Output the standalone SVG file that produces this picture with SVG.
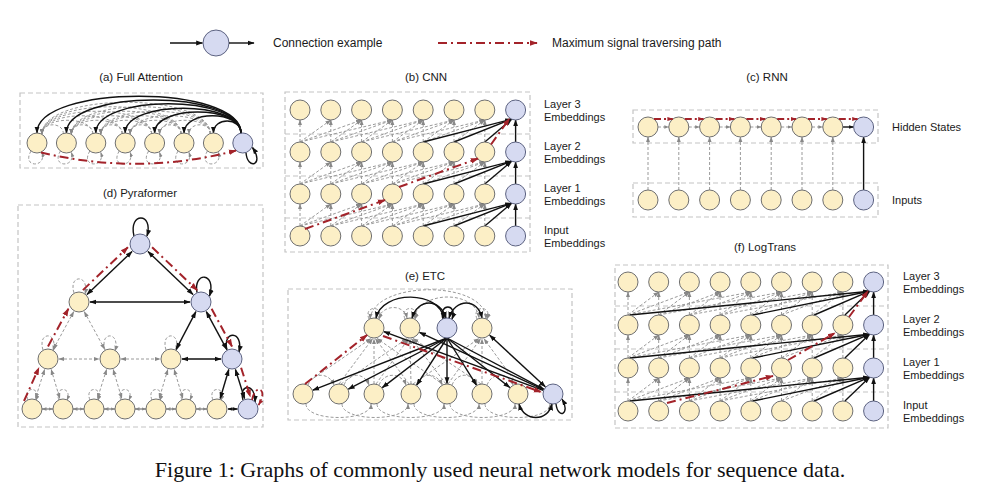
<svg xmlns="http://www.w3.org/2000/svg" width="1000" height="503" viewBox="0 0 1000 503">
<defs>
<marker id="mk" viewBox="0 0 10 10" refX="9" refY="5" markerWidth="7" markerHeight="7" markerUnits="userSpaceOnUse" orient="auto-start-reverse"><path d="M0,1.5L10,5L0,8.5z" fill="#111"/></marker>
<marker id="mks" viewBox="0 0 10 10" refX="9" refY="5" markerWidth="5" markerHeight="5" markerUnits="userSpaceOnUse" orient="auto-start-reverse"><path d="M0,1.5L10,5L0,8.5z" fill="#111"/></marker>
<marker id="mg" viewBox="0 0 10 10" refX="9" refY="5" markerWidth="6" markerHeight="6" markerUnits="userSpaceOnUse" orient="auto-start-reverse"><path d="M0,1.5L10,5L0,8.5z" fill="#888"/></marker>
<marker id="mgs" viewBox="0 0 10 10" refX="9" refY="5" markerWidth="5" markerHeight="5" markerUnits="userSpaceOnUse" orient="auto-start-reverse"><path d="M0,1.5L10,5L0,8.5z" fill="#888"/></marker>
<marker id="mr" viewBox="0 0 10 10" refX="9" refY="5" markerWidth="8" markerHeight="8" markerUnits="userSpaceOnUse" orient="auto"><path d="M0,1.5L10,5L0,8.5z" fill="#a3232a"/></marker>
<marker id="mrs" viewBox="0 0 10 10" refX="9" refY="5" markerWidth="6" markerHeight="6" markerUnits="userSpaceOnUse" orient="auto"><path d="M0,1.5L10,5L0,8.5z" fill="#a3232a"/></marker>
<g id="cnnE">
<line class="g" x1="300" y1="226" x2="300" y2="204"/>
<line class="g" x1="300" y1="226" x2="330.8" y2="204"/>
<line class="g" x1="330.8" y1="226" x2="330.8" y2="204"/>
<line class="g" x1="300" y1="226" x2="361.6" y2="204"/>
<line class="g" x1="330.8" y1="226" x2="361.6" y2="204"/>
<line class="g" x1="361.6" y1="226" x2="361.6" y2="204"/>
<line class="g" x1="300" y1="226" x2="392.4" y2="204"/>
<line class="g" x1="330.8" y1="226" x2="392.4" y2="204"/>
<line class="g" x1="361.6" y1="226" x2="392.4" y2="204"/>
<line class="g" x1="392.4" y1="226" x2="392.4" y2="204"/>
<line class="g" x1="330.8" y1="226" x2="423.2" y2="204"/>
<line class="g" x1="361.6" y1="226" x2="423.2" y2="204"/>
<line class="g" x1="392.4" y1="226" x2="423.2" y2="204"/>
<line class="g" x1="423.2" y1="226" x2="423.2" y2="204"/>
<line class="g" x1="361.6" y1="226" x2="454" y2="204"/>
<line class="g" x1="392.4" y1="226" x2="454" y2="204"/>
<line class="g" x1="423.2" y1="226" x2="454" y2="204"/>
<line class="g" x1="454" y1="226" x2="454" y2="204"/>
<line class="g" x1="392.4" y1="226" x2="484.8" y2="204"/>
<line class="g" x1="423.2" y1="226" x2="484.8" y2="204"/>
<line class="g" x1="454" y1="226" x2="484.8" y2="204"/>
<line class="g" x1="484.8" y1="226" x2="484.8" y2="204"/>
<line class="k" x1="423.2" y1="226" x2="511.6" y2="203.2"/>
<line class="k" x1="454" y1="226" x2="511.6" y2="203.2"/>
<line class="k" x1="484.8" y1="226" x2="511.6" y2="203.2"/>
<line class="k" x1="515.6" y1="226" x2="515.6" y2="204"/>
</g>
<g id="ltE">
<line class="g" x1="628" y1="401" x2="628" y2="378"/>
<line class="g" x1="658.7" y1="401" x2="658.7" y2="378"/>
<line class="g" x1="689.4" y1="401" x2="689.4" y2="378"/>
<line class="g" x1="720.1" y1="401" x2="720.1" y2="378"/>
<line class="g" x1="750.8" y1="401" x2="750.8" y2="378"/>
<line class="g" x1="781.5" y1="401" x2="781.5" y2="378"/>
<line class="g" x1="812.2" y1="401" x2="812.2" y2="378"/>
<line class="g" x1="842.9" y1="401" x2="842.9" y2="378"/>
<line class="g" x1="628" y1="401" x2="658.7" y2="378"/>
<line class="g" x1="658.7" y1="401" x2="689.4" y2="378"/>
<line class="g" x1="628" y1="401" x2="689.4" y2="378"/>
<line class="g" x1="689.4" y1="401" x2="720.1" y2="378"/>
<line class="g" x1="658.7" y1="401" x2="720.1" y2="378"/>
<line class="g" x1="720.1" y1="401" x2="750.8" y2="378"/>
<line class="g" x1="689.4" y1="401" x2="750.8" y2="378"/>
<line class="g" x1="628" y1="401" x2="750.8" y2="378"/>
<line class="g" x1="750.8" y1="401" x2="781.5" y2="378"/>
<line class="g" x1="720.1" y1="401" x2="781.5" y2="378"/>
<line class="g" x1="658.7" y1="401" x2="781.5" y2="378"/>
<line class="g" x1="781.5" y1="401" x2="812.2" y2="378"/>
<line class="g" x1="750.8" y1="401" x2="812.2" y2="378"/>
<line class="g" x1="689.4" y1="401" x2="812.2" y2="378"/>
<line class="g" x1="812.2" y1="401" x2="842.9" y2="378"/>
<line class="g" x1="781.5" y1="401" x2="842.9" y2="378"/>
<line class="g" x1="720.1" y1="401" x2="842.9" y2="378"/>
<line class="k" x1="630" y1="401" x2="869.6" y2="377.2"/>
<line class="k" x1="752.8" y1="401" x2="869.6" y2="377.2"/>
<line class="k" x1="814.2" y1="401" x2="869.6" y2="377.2"/>
<line class="k" x1="844.9" y1="401" x2="869.6" y2="377.2"/>
<line class="k" x1="873.6" y1="401" x2="873.6" y2="378"/>
</g>
</defs>
<style>
.n{fill:#fcefc6;stroke:#707070;stroke-width:1}
.nb{fill:#d6daf1;stroke:#5d6382;stroke-width:1}
.box{fill:none;stroke:#c4c4c4;stroke-width:1.2;stroke-dasharray:5 3}
.k{fill:none;stroke:#111;stroke-width:1.4;marker-end:url(#mk)}
.k2{marker-start:url(#mk)}
.ks{fill:none;stroke:#111;stroke-width:1.4;marker-end:url(#mks);marker-start:url(#mks)}
.g{fill:none;stroke:#9a9a9a;stroke-width:1;stroke-dasharray:3 2;marker-end:url(#mg)}
.g2{marker-start:url(#mg)}
.gs{fill:none;stroke:#8a8a8a;stroke-width:1.4;marker-end:url(#mgs);marker-start:url(#mgs)}
.gh{fill:none;stroke:#9a9a9a;stroke-width:1;stroke-dasharray:3 2;marker-end:url(#mgs)}
.r{fill:none;stroke:#a3232a;stroke-width:2;stroke-dasharray:9 4 2 4;marker-end:url(#mr)}
.rs{fill:none;stroke:#a3232a;stroke-width:1.8;stroke-dasharray:7 3 2 3;marker-end:url(#mrs)}
text{font-family:"Liberation Sans",Arial,Helvetica,sans-serif;fill:#1a1a1a}
.lg{font-size:12px}
.t{font-size:11.5px;text-anchor:middle}
.l{font-size:11px}
.cap{font-family:"Liberation Serif","Times New Roman",serif;font-size:22px;text-anchor:middle;fill:#111}
</style>
<rect width="1000" height="503" fill="#fff"/>

<g id="legend">
<line class="k" x1="170" y1="43" x2="202.5" y2="43"/>
<circle class="nb" cx="216" cy="43" r="13"/>
<line class="k" x1="229" y1="43" x2="254" y2="43"/>
<text class="lg" x="273" y="47">Connection example</text>
<line class="r" x1="438" y1="43" x2="537" y2="43"/>
<text class="lg" x="552" y="47">Maximum signal traversing path</text>
</g>

<g id="titles">
<text class="t" x="141" y="81">(a) Full Attention</text>
<text class="t" x="426" y="81">(b) CNN</text>
<text class="t" x="767" y="81">(c) RNN</text>
<text class="t" x="140" y="197">(d) Pyraformer</text>
<text class="t" x="425" y="280">(e) ETC</text>
<text class="t" x="765" y="251">(f) LogTrans</text>
</g>

<g id="labels">
<text class="l" x="544" y="107.5">Layer 3</text><text class="l" x="544" y="121">Embeddings</text>
<text class="l" x="544" y="149.5">Layer 2</text><text class="l" x="544" y="163">Embeddings</text>
<text class="l" x="544" y="191.5">Layer 1</text><text class="l" x="544" y="205">Embeddings</text>
<text class="l" x="544" y="233.5">Input</text><text class="l" x="544" y="247">Embeddings</text>
<text class="l" x="892" y="131">Hidden States</text>
<text class="l" x="892" y="204">Inputs</text>
<text class="l" x="903" y="279.5">Layer 3</text><text class="l" x="903" y="293">Embeddings</text>
<text class="l" x="903" y="322.5">Layer 2</text><text class="l" x="903" y="336">Embeddings</text>
<text class="l" x="903" y="365.5">Layer 1</text><text class="l" x="903" y="379">Embeddings</text>
<text class="l" x="903" y="408.5">Input</text><text class="l" x="903" y="422">Embeddings</text>
</g>

<g id="frames">
<rect class="box" x="20" y="93" width="243" height="75"/>
<rect class="box" x="285" y="92" width="245" height="160"/>
<line class="box" x1="285" y1="134" x2="530" y2="134"/>
<line class="box" x1="285" y1="176" x2="530" y2="176"/>
<line class="box" x1="285" y1="218" x2="530" y2="218"/>
<rect class="box" x="633" y="110" width="245" height="33"/>
<rect class="box" x="633" y="183" width="245" height="34"/>
<rect class="box" x="18" y="205" width="245" height="222"/>
<rect class="box" x="288" y="289" width="284" height="131"/>
<rect class="box" x="615" y="265" width="273" height="163"/>
<line class="box" x1="615" y1="306" x2="888" y2="306"/>
<line class="box" x1="615" y1="349" x2="888" y2="349"/>
<line class="box" x1="615" y1="392" x2="888" y2="392"/>
</g>

<g id="connectors">
<!-- (a) full attention -->
<path class="g" d="M63.4,134 C63.4,121.7 42,121.7 42,134"/>
<path class="g" d="M92.8,134 C92.8,121.7 71.4,121.7 71.4,134"/>
<path class="g" d="M92.8,134 C92.8,115.7 42,115.7 42,134"/>
<path class="g" d="M122.2,134 C122.2,121.7 100.8,121.7 100.8,134"/>
<path class="g" d="M122.2,134 C122.2,115.7 71.4,115.7 71.4,134"/>
<path class="g" d="M122.2,134 C122.2,109.7 42,109.7 42,134"/>
<path class="g" d="M151.6,134 C151.6,121.7 130.2,121.7 130.2,134"/>
<path class="g" d="M151.6,134 C151.6,115.7 100.8,115.7 100.8,134"/>
<path class="g" d="M151.6,134 C151.6,109.7 71.4,109.7 71.4,134"/>
<path class="g" d="M151.6,134 C151.6,103.7 42,103.7 42,134"/>
<path class="g" d="M181,134 C181,121.7 159.6,121.7 159.6,134"/>
<path class="g" d="M181,134 C181,115.7 130.2,115.7 130.2,134"/>
<path class="g" d="M181,134 C181,109.7 100.8,109.7 100.8,134"/>
<path class="g" d="M181,134 C181,103.7 71.4,103.7 71.4,134"/>
<path class="g" d="M181,134 C181,97.7 42,97.7 42,134"/>
<path class="g" d="M210.4,134 C210.4,121.7 189,121.7 189,134"/>
<path class="g" d="M210.4,134 C210.4,115.7 159.6,115.7 159.6,134"/>
<path class="g" d="M210.4,134 C210.4,109.7 130.2,109.7 130.2,134"/>
<path class="g" d="M210.4,134 C210.4,103.7 100.8,103.7 100.8,134"/>
<path class="g" d="M210.4,134 C210.4,97.7 71.4,97.7 71.4,134"/>
<path class="g" d="M210.4,134 C210.4,91.7 42,91.7 42,134"/>
<path class="gh" d="M31,151 C21,168 47,168 42,152.5"/>
<path class="gh" d="M60.4,151 C50.4,168 76.4,168 71.4,152.5"/>
<path class="gh" d="M89.8,151 C79.8,168 105.8,168 100.8,152.5"/>
<path class="gh" d="M119.2,151 C109.2,168 135.2,168 130.2,152.5"/>
<path class="gh" d="M148.6,151 C138.6,168 164.6,168 159.6,152.5"/>
<path class="gh" d="M178,151 C168,168 194,168 189,152.5"/>
<path class="gh" d="M207.4,151 C197.4,168 223.4,168 218.4,152.5"/>
<path class="k" d="M241,133.2 C241,84 37,84 37,133"/>
<path class="k" d="M241,133.2 C241,89 66.4,89 66.4,133"/>
<path class="k" d="M241,133.2 C241,94 95.8,94 95.8,133"/>
<path class="k" d="M241,133.2 C241,100 125.2,100 125.2,133"/>
<path class="k" d="M241,133.2 C241,105 154.6,105 154.6,133"/>
<path class="k" d="M241,133.2 C241,110 184,110 184,133"/>
<path class="k" d="M241,133.2 C241,117 213.4,117 213.4,133"/>
<path class="k" d="M246,152.5 C247,170 265,166 252.5,147.5"/>

<!-- (b) CNN -->
<use href="#cnnE"/>
<use href="#cnnE" transform="translate(0,-42)"/>
<use href="#cnnE" transform="translate(0,-84)"/>

<!-- (c) RNN -->
<line class="gh" x1="658" y1="127" x2="668.8" y2="127"/>
<line class="gh" x1="688.8" y1="127" x2="699.6" y2="127"/>
<line class="gh" x1="719.6" y1="127" x2="730.4" y2="127"/>
<line class="gh" x1="750.4" y1="127" x2="761.2" y2="127"/>
<line class="gh" x1="781.2" y1="127" x2="792" y2="127"/>
<line class="gh" x1="812" y1="127" x2="822.8" y2="127"/>
<line class="ks" x1="842.8" y1="127" x2="853.6" y2="127" style="marker-start:none"/>
<line class="g" x1="648" y1="190" x2="648" y2="137"/>
<line class="g" x1="678.8" y1="190" x2="678.8" y2="137"/>
<line class="g" x1="709.6" y1="190" x2="709.6" y2="137"/>
<line class="g" x1="740.4" y1="190" x2="740.4" y2="137"/>
<line class="g" x1="771.2" y1="190" x2="771.2" y2="137"/>
<line class="g" x1="802" y1="190" x2="802" y2="137"/>
<line class="g" x1="832.8" y1="190" x2="832.8" y2="137"/>
<line class="k" x1="863.6" y1="190" x2="863.6" y2="137"/>

<!-- (d) Pyraformer -->
<line class="g g2" x1="73.7" y1="311.7" x2="53.3" y2="349.3"/>
<line class="g g2" x1="84.3" y1="311.7" x2="104.7" y2="349.3"/>
<line class="g g2" x1="59" y1="359" x2="99" y2="359"/>
<line class="g g2" x1="121" y1="359" x2="160" y2="359"/>
<line class="g g2" x1="44.6" y1="369.5" x2="35.4" y2="398.5"/>
<line class="g g2" x1="51.2" y1="369.5" x2="59.8" y2="398.5"/>
<line class="g g2" x1="106.6" y1="369.5" x2="97.4" y2="398.5"/>
<line class="g g2" x1="113.2" y1="369.5" x2="121.8" y2="398.5"/>
<line class="g g2" x1="167.8" y1="369.5" x2="159.2" y2="398.5"/>
<line class="g g2" x1="174.2" y1="369.5" x2="182.8" y2="398.5"/>
<line class="gs" x1="42" y1="409" x2="53" y2="409"/>
<line class="gs" x1="73" y1="409" x2="84" y2="409"/>
<line class="gs" x1="104" y1="409" x2="115" y2="409"/>
<line class="gs" x1="135" y1="409" x2="146" y2="409"/>
<line class="gs" x1="166" y1="409" x2="176" y2="409"/>
<line class="gs" x1="196" y1="409" x2="207" y2="409"/>
<path class="g" d="M74,293 C68,274 90,274 85,294"/>
<path class="g" d="M43,350 C37,331 59,331 53,351"/>
<path class="g" d="M105,350 C99,331 121,331 115,351"/>
<path class="g" d="M166,350 C160,331 182,331 176,351"/>
<path class="gh" d="M28,400 C22,386 42,386 36,400"/>
<path class="gh" d="M59,400 C53,386 73,386 67,400"/>
<path class="gh" d="M90,400 C84,386 104,386 98,400"/>
<path class="gh" d="M121,400 C115,386 135,386 129,400"/>
<path class="gh" d="M152,400 C146,386 166,386 160,400"/>
<path class="gh" d="M182,400 C176,386 196,386 190,400"/>
<path class="gh" d="M213,400 C207,386 227,386 221,400"/>
<line class="k k2" x1="132" y1="251.6" x2="87" y2="294.4"/>
<line class="k k2" x1="148" y1="251.6" x2="193" y2="294.4"/>
<line class="k k2" x1="90" y1="302" x2="190" y2="302"/>
<line class="k k2" x1="195.9" y1="311.7" x2="176.1" y2="349.3"/>
<line class="k k2" x1="206.3" y1="311.7" x2="226.7" y2="349.3"/>
<line class="k k2" x1="182" y1="359" x2="221" y2="359"/>
<line class="k k2" x1="228.8" y1="369.5" x2="220.2" y2="398.5"/>
<line class="k k2" x1="235.4" y1="369.5" x2="244.6" y2="398.5"/>
<line class="ks" x1="228" y1="409" x2="237.5" y2="409"/>
<path class="k" d="M134,236 C128,212 154,212 147,236"/>
<path class="k" d="M197,292.5 C193,271 217,272 209.5,296"/>
<path class="k" d="M227,350 C222,330 244,330 239,352"/>
<path class="k" d="M243,400 C238,384 256,382 255,402"/>

<!-- (e) ETC -->
<path class="g g2" d="M370,319 C374,280 486,280 486,319"/>
<path class="g" d="M378,318 C384,304 404,304 407,318"/>
<path class="g g2" d="M414,318 C420,290 476,290 479,318"/>
<path class="g" d="M369,319 C363,305 385,305 379,319"/>
<path class="g" d="M405,319 C399,305 421,305 415,319"/>
<path class="g" d="M477,319 C471,305 493,305 487,319"/>
<line class="g" x1="305" y1="384" x2="371" y2="338.5"/>
<line class="g" x1="339" y1="384" x2="372.5" y2="338.8"/>
<line class="g" x1="374" y1="384" x2="374" y2="339"/>
<line class="g" x1="409" y1="384" x2="375.5" y2="338.8"/>
<line class="g" x1="444" y1="385" x2="377" y2="338.5"/>
<line class="g" x1="341" y1="384" x2="407" y2="338.5"/>
<line class="g" x1="376" y1="384" x2="408.5" y2="338.8"/>
<line class="g" x1="411" y1="384" x2="410" y2="339"/>
<line class="g" x1="446" y1="384" x2="411.5" y2="338.8"/>
<line class="g" x1="481" y1="384" x2="413" y2="338.5"/>
<line class="g" x1="413" y1="384" x2="479" y2="338.5"/>
<line class="g" x1="448" y1="384" x2="480.5" y2="338.8"/>
<line class="g" x1="482" y1="384" x2="482" y2="339"/>
<line class="g" x1="517" y1="384" x2="484" y2="338.8"/>
<path class="g" d="M308,385 C313,372 329,372 334,385"/>
<path class="g" d="M344,385 C349,372 364,372 369,385"/>
<path class="g" d="M379,385 C384,372 401,372 406,385"/>
<path class="g" d="M416,385 C421,372 437,372 442,385"/>
<path class="g" d="M452,385 C457,372 472,372 477,385"/>
<path class="g" d="M487,385 C492,372 508,372 513,385"/>
<path class="g" d="M306,404 C306,422 371,422 371,404"/>
<path class="g" d="M342,404 C342,422 408,422 408,404"/>
<path class="g" d="M377,404 C377,422 444,422 444,404"/>
<path class="g" d="M414,404 C414,422 479,422 479,404"/>
<path class="g" d="M450,404 C450,422 515,422 515,404"/>
<path class="g" d="M485,404 C485,422 550,422 550,404"/>
<path class="k k2" d="M376,318 C382,290 440,290 444,319"/>
<path class="k k2" d="M412,318 C418,298 440,298 446,318"/>
<path class="k k2" d="M449,318 C455,298 478,298 482,318"/>
<path class="k" d="M443,319 C438,303 458,303 452,319"/>
<line class="k" x1="447" y1="338" x2="312.8" y2="390.2"/>
<line class="k" x1="447" y1="338" x2="348.3" y2="389.2"/>
<line class="k" x1="447" y1="338" x2="382.3" y2="387.6"/>
<line class="k" x1="447" y1="338" x2="416.7" y2="385.2"/>
<line class="k" x1="447" y1="338" x2="447" y2="383.5"/>
<line class="k" x1="447" y1="338" x2="476.4" y2="385.1"/>
<line class="k" x1="447" y1="338" x2="509.8" y2="387.5"/>
<line class="k" x1="447" y1="338" x2="543.7" y2="389.1"/>
<line class="k" x1="543.2" y1="390.4" x2="383.8" y2="331.6"/>
<line class="k" x1="543.5" y1="389.6" x2="419.5" y2="332.4"/>
<line class="k k2" x1="545.3" y1="386.8" x2="489.7" y2="335.2"/>
<path class="k k2" d="M519,404 C524,422 548,422 552,404"/>
<path class="k" d="M556,404 C558,420 571,414 562,399"/>

<!-- (f) LogTrans -->
<use href="#ltE"/>
<use href="#ltE" transform="translate(0,-43)"/>
<use href="#ltE" transform="translate(0,-86)"/>
</g>

<g id="nodes-a">
<g id="a0"><circle class="n" cx="37" cy="143" r="10"/></g>
<g id="a1"><circle class="n" cx="66.4" cy="143" r="10"/></g>
<g id="a2"><circle class="n" cx="95.8" cy="143" r="10"/></g>
<g id="a3"><circle class="n" cx="125.2" cy="143" r="10"/></g>
<g id="a4"><circle class="n" cx="154.6" cy="143" r="10"/></g>
<g id="a5"><circle class="n" cx="184" cy="143" r="10"/></g>
<g id="a6"><circle class="n" cx="213.4" cy="143" r="10"/></g>
<g id="a7"><circle class="nb" cx="242.8" cy="143" r="10"/></g>
</g>

<g id="nodes-b">
<g id="b30"><circle class="n" cx="300" cy="110" r="10"/></g>
<g id="b31"><circle class="n" cx="330.8" cy="110" r="10"/></g>
<g id="b32"><circle class="n" cx="361.6" cy="110" r="10"/></g>
<g id="b33"><circle class="n" cx="392.4" cy="110" r="10"/></g>
<g id="b34"><circle class="n" cx="423.2" cy="110" r="10"/></g>
<g id="b35"><circle class="n" cx="454" cy="110" r="10"/></g>
<g id="b36"><circle class="n" cx="484.8" cy="110" r="10"/></g>
<g id="b37"><circle class="nb" cx="515.6" cy="110" r="10"/></g>
<g id="b20"><circle class="n" cx="300" cy="152" r="10"/></g>
<g id="b21"><circle class="n" cx="330.8" cy="152" r="10"/></g>
<g id="b22"><circle class="n" cx="361.6" cy="152" r="10"/></g>
<g id="b23"><circle class="n" cx="392.4" cy="152" r="10"/></g>
<g id="b24"><circle class="n" cx="423.2" cy="152" r="10"/></g>
<g id="b25"><circle class="n" cx="454" cy="152" r="10"/></g>
<g id="b26"><circle class="n" cx="484.8" cy="152" r="10"/></g>
<g id="b27"><circle class="nb" cx="515.6" cy="152" r="10"/></g>
<g id="b10"><circle class="n" cx="300" cy="194" r="10"/></g>
<g id="b11"><circle class="n" cx="330.8" cy="194" r="10"/></g>
<g id="b12"><circle class="n" cx="361.6" cy="194" r="10"/></g>
<g id="b13"><circle class="n" cx="392.4" cy="194" r="10"/></g>
<g id="b14"><circle class="n" cx="423.2" cy="194" r="10"/></g>
<g id="b15"><circle class="n" cx="454" cy="194" r="10"/></g>
<g id="b16"><circle class="n" cx="484.8" cy="194" r="10"/></g>
<g id="b17"><circle class="nb" cx="515.6" cy="194" r="10"/></g>
<g id="b00"><circle class="n" cx="300" cy="236" r="10"/></g>
<g id="b01"><circle class="n" cx="330.8" cy="236" r="10"/></g>
<g id="b02"><circle class="n" cx="361.6" cy="236" r="10"/></g>
<g id="b03"><circle class="n" cx="392.4" cy="236" r="10"/></g>
<g id="b04"><circle class="n" cx="423.2" cy="236" r="10"/></g>
<g id="b05"><circle class="n" cx="454" cy="236" r="10"/></g>
<g id="b06"><circle class="n" cx="484.8" cy="236" r="10"/></g>
<g id="b07"><circle class="nb" cx="515.6" cy="236" r="10"/></g>
</g>

<g id="nodes-c">
<g id="ch0"><circle class="n" cx="648" cy="127" r="10"/></g>
<g id="ch1"><circle class="n" cx="678.8" cy="127" r="10"/></g>
<g id="ch2"><circle class="n" cx="709.6" cy="127" r="10"/></g>
<g id="ch3"><circle class="n" cx="740.4" cy="127" r="10"/></g>
<g id="ch4"><circle class="n" cx="771.2" cy="127" r="10"/></g>
<g id="ch5"><circle class="n" cx="802" cy="127" r="10"/></g>
<g id="ch6"><circle class="n" cx="832.8" cy="127" r="10"/></g>
<g id="ch7"><circle class="nb" cx="863.6" cy="127" r="10"/></g>
<g id="ci0"><circle class="n" cx="648" cy="200" r="10"/></g>
<g id="ci1"><circle class="n" cx="678.8" cy="200" r="10"/></g>
<g id="ci2"><circle class="n" cx="709.6" cy="200" r="10"/></g>
<g id="ci3"><circle class="n" cx="740.4" cy="200" r="10"/></g>
<g id="ci4"><circle class="n" cx="771.2" cy="200" r="10"/></g>
<g id="ci5"><circle class="n" cx="802" cy="200" r="10"/></g>
<g id="ci6"><circle class="n" cx="832.8" cy="200" r="10"/></g>
<g id="ci7"><circle class="nb" cx="863.6" cy="200" r="10"/></g>
</g>

<g id="nodes-d">
<g id="dT"><circle class="nb" cx="140" cy="244" r="10"/></g>
<g id="dA"><circle class="n" cx="79" cy="302" r="10"/></g>
<g id="dB"><circle class="nb" cx="201" cy="302" r="10"/></g>
<g id="d1a"><circle class="n" cx="48" cy="359" r="10"/></g>
<g id="d1b"><circle class="n" cx="110" cy="359" r="10"/></g>
<g id="d1c"><circle class="n" cx="171" cy="359" r="10"/></g>
<g id="d1d"><circle class="nb" cx="232" cy="359" r="10"/></g>
<g id="d00"><circle class="n" cx="32" cy="409" r="10"/></g>
<g id="d01"><circle class="n" cx="63" cy="409" r="10"/></g>
<g id="d02"><circle class="n" cx="94" cy="409" r="10"/></g>
<g id="d03"><circle class="n" cx="125" cy="409" r="10"/></g>
<g id="d04"><circle class="n" cx="156" cy="409" r="10"/></g>
<g id="d05"><circle class="n" cx="186" cy="409" r="10"/></g>
<g id="d06"><circle class="n" cx="217" cy="409" r="10"/></g>
<g id="d07"><circle class="nb" cx="248" cy="409" r="10"/></g>
</g>

<g id="nodes-e">
<g id="et0"><circle class="n" cx="374" cy="328" r="10"/></g>
<g id="et1"><circle class="n" cx="410" cy="328" r="10"/></g>
<g id="et2"><circle class="nb" cx="447" cy="328" r="10"/></g>
<g id="et3"><circle class="n" cx="482" cy="328" r="10"/></g>
<g id="eb0"><circle class="n" cx="303" cy="394" r="10"/></g>
<g id="eb1"><circle class="n" cx="339" cy="394" r="10"/></g>
<g id="eb2"><circle class="n" cx="374" cy="394" r="10"/></g>
<g id="eb3"><circle class="n" cx="411" cy="394" r="10"/></g>
<g id="eb4"><circle class="n" cx="447" cy="394" r="10"/></g>
<g id="eb5"><circle class="n" cx="482" cy="394" r="10"/></g>
<g id="eb6"><circle class="n" cx="518" cy="394" r="10"/></g>
<g id="eb7"><circle class="nb" cx="553" cy="394" r="10"/></g>
</g>

<g id="nodes-f">
<g id="f30"><circle class="n" cx="628" cy="282" r="10"/></g>
<g id="f31"><circle class="n" cx="658.7" cy="282" r="10"/></g>
<g id="f32"><circle class="n" cx="689.4" cy="282" r="10"/></g>
<g id="f33"><circle class="n" cx="720.1" cy="282" r="10"/></g>
<g id="f34"><circle class="n" cx="750.8" cy="282" r="10"/></g>
<g id="f35"><circle class="n" cx="781.5" cy="282" r="10"/></g>
<g id="f36"><circle class="n" cx="812.2" cy="282" r="10"/></g>
<g id="f37"><circle class="n" cx="842.9" cy="282" r="10"/></g>
<g id="f38"><circle class="nb" cx="873.6" cy="282" r="10"/></g>
<g id="f20"><circle class="n" cx="628" cy="325" r="10"/></g>
<g id="f21"><circle class="n" cx="658.7" cy="325" r="10"/></g>
<g id="f22"><circle class="n" cx="689.4" cy="325" r="10"/></g>
<g id="f23"><circle class="n" cx="720.1" cy="325" r="10"/></g>
<g id="f24"><circle class="n" cx="750.8" cy="325" r="10"/></g>
<g id="f25"><circle class="n" cx="781.5" cy="325" r="10"/></g>
<g id="f26"><circle class="n" cx="812.2" cy="325" r="10"/></g>
<g id="f27"><circle class="n" cx="842.9" cy="325" r="10"/></g>
<g id="f28"><circle class="nb" cx="873.6" cy="325" r="10"/></g>
<g id="f10"><circle class="n" cx="628" cy="368" r="10"/></g>
<g id="f11"><circle class="n" cx="658.7" cy="368" r="10"/></g>
<g id="f12"><circle class="n" cx="689.4" cy="368" r="10"/></g>
<g id="f13"><circle class="n" cx="720.1" cy="368" r="10"/></g>
<g id="f14"><circle class="n" cx="750.8" cy="368" r="10"/></g>
<g id="f15"><circle class="n" cx="781.5" cy="368" r="10"/></g>
<g id="f16"><circle class="n" cx="812.2" cy="368" r="10"/></g>
<g id="f17"><circle class="n" cx="842.9" cy="368" r="10"/></g>
<g id="f18"><circle class="nb" cx="873.6" cy="368" r="10"/></g>
<g id="f00"><circle class="n" cx="628" cy="411" r="10"/></g>
<g id="f01"><circle class="n" cx="658.7" cy="411" r="10"/></g>
<g id="f02"><circle class="n" cx="689.4" cy="411" r="10"/></g>
<g id="f03"><circle class="n" cx="720.1" cy="411" r="10"/></g>
<g id="f04"><circle class="n" cx="750.8" cy="411" r="10"/></g>
<g id="f05"><circle class="n" cx="781.5" cy="411" r="10"/></g>
<g id="f06"><circle class="n" cx="812.2" cy="411" r="10"/></g>
<g id="f07"><circle class="n" cx="842.9" cy="411" r="10"/></g>
<g id="f08"><circle class="nb" cx="873.6" cy="411" r="10"/></g>
</g>

<g id="signal-paths">
<path class="r" d="M41,152.5 Q140,176 236,150.5"/>
<line class="r" x1="305" y1="229" x2="385" y2="200"/>
<line class="r" x1="399" y1="187" x2="478" y2="158.5"/>
<line class="r" x1="491" y1="144.5" x2="509.5" y2="118.5"/>
<line class="rs" x1="654" y1="119" x2="672.8" y2="119"/>
<line class="rs" x1="684.8" y1="119" x2="703.6" y2="119"/>
<line class="rs" x1="715.6" y1="119" x2="734.4" y2="119"/>
<line class="rs" x1="746.4" y1="119" x2="765.2" y2="119"/>
<line class="rs" x1="777.2" y1="119" x2="796" y2="119"/>
<line class="rs" x1="808" y1="119" x2="826.8" y2="119"/>
<line class="rs" x1="838.8" y1="119" x2="857.6" y2="119"/>
<line class="r" x1="24" y1="401" x2="38.9" y2="367.7"/>
<line class="r" x1="48" y1="346.4" x2="68.4" y2="308.8"/>
<line class="r" x1="82.9" y1="290.1" x2="127.9" y2="247.3"/>
<line class="r" x1="152.1" y1="247.3" x2="197.1" y2="290.1"/>
<line class="r" x1="211.6" y1="308.8" x2="232" y2="346.4"/>
<line class="r" x1="241.1" y1="367.7" x2="250.3" y2="396.7"/>
<path class="rs" d="M252,400 C255,383 269,388 258.5,405"/>
<line class="r" x1="305" y1="384" x2="367" y2="335"/>
<line class="r" x1="383" y1="336" x2="541" y2="392"/>
<line class="r" x1="667" y1="403" x2="773" y2="376"/>
<line class="r" x1="788" y1="360" x2="835" y2="333"/>
<line class="r" x1="849" y1="317" x2="868" y2="291"/>
</g>

<text class="cap" x="500" y="477">Figure 1: Graphs of commonly used neural network models for sequence data.</text>
</svg>
